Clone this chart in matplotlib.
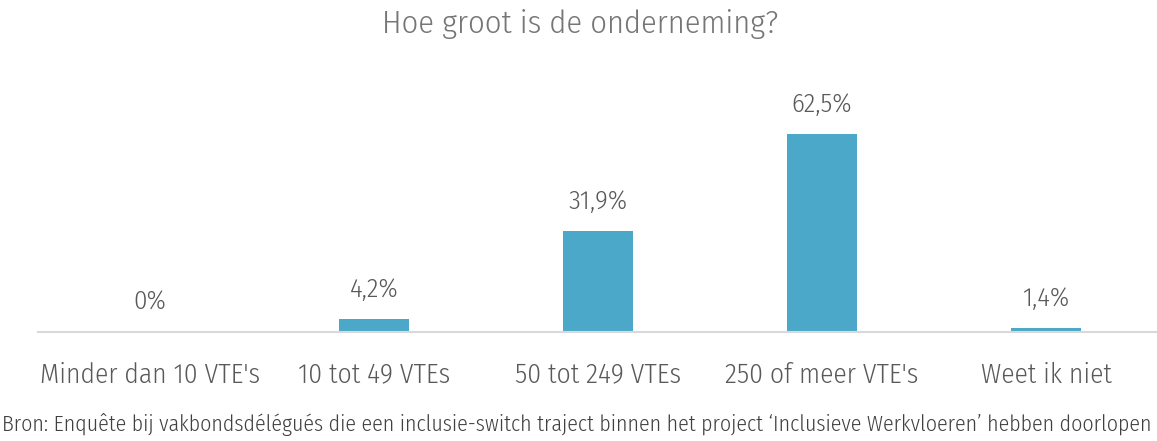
import matplotlib
matplotlib.use("Agg")
import matplotlib.pyplot as plt

categories = ["Minder dan 10 VTE's", "10 tot 49 VTEs", "50 tot 249 VTEs",
              "250 of meer VTE's", "Weet ik niet"]
values = [0.0, 4.2, 31.9, 62.5, 1.4]
value_labels = ["0%", "4,2%", "31,9%", "62,5%", "1,4%"]
title = "Hoe groot is de onderneming?"
source = ("Bron: Enquête bij vakbondsdélégués die een inclusie-switch traject binnen "
          "het project \u2018Inclusieve Werkvloeren\u2019 hebben doorlopen")

plt.rcParams["font.family"] = ["Fira Sans Condensed", "DejaVu Sans"]

bar_color = "#4BA8C8"
text_color = "#595959"

fig = plt.figure(figsize=(11.57, 4.41), dpi=100)
ax = fig.add_axes([38 / 1157, 1 - 332 / 441, 1120 / 1157, 222 / 441])

x = range(len(categories))
ax.bar(x, values, width=0.31, color=bar_color, zorder=2)
ax.set_xlim(-0.5, len(categories) - 0.5)
ax.set_ylim(0, 70)

for xi, v, lab in zip(x, values, value_labels):
    ax.annotate(lab, (xi, v), xytext=(0, 21), textcoords="offset points",
                ha="center", va="center", fontsize=19.3, color=text_color,
                fontweight=300)

ax.set_xticks(list(x))
ax.set_xticklabels(categories, fontsize=19.8, color=text_color, fontweight=300)
ax.tick_params(axis="x", length=0, pad=21.5)
ax.set_yticks([])
for side in ["left", "right", "top"]:
    ax.spines[side].set_visible(False)
ax.spines["bottom"].set_color("#D9D9D9")
ax.spines["bottom"].set_linewidth(1.5)

fig.text(0.5015, 1 - 24 / 441, title, ha="center", va="center", fontsize=23.4,
         color="#767676", fontweight=300)
fig.text(0.002, 1 - 424 / 441, source, ha="left", va="center", fontsize=15.75,
         color="#404040", fontweight=300)

fig.savefig("out.png", dpi=100)
